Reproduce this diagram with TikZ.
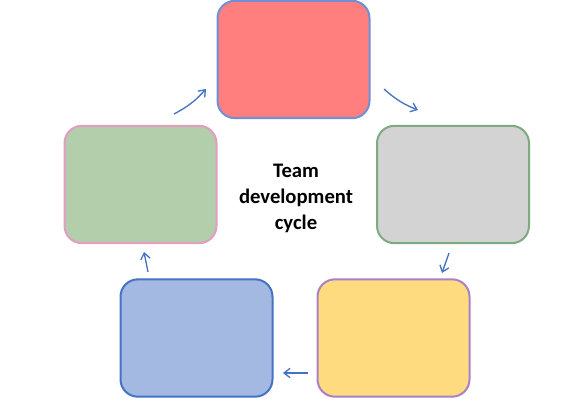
\documentclass[tikz,border=0pt]{standalone}
\usepackage{fontspec}
\setmainfont{Carlito}
\usetikzlibrary{arrows.meta}
\definecolor{redfill}{HTML}{FF7F7F}
\definecolor{redline}{HTML}{6F8FD6}
\definecolor{grayfill}{HTML}{D3D3D3}
\definecolor{grayline}{HTML}{7FA97F}
\definecolor{yellowfill}{HTML}{FFDB80}
\definecolor{yellowline}{HTML}{A97FC6}
\definecolor{bluefill}{HTML}{A4B9E1}
\definecolor{blueline}{HTML}{4472C4}
\definecolor{greenfill}{HTML}{B2CEAA}
\definecolor{greenline}{HTML}{E39CC2}
\definecolor{arrowblue}{HTML}{4472C4}
\tikzset{
  stage/.style = {rounded corners = 13pt, line width = 1.5pt,
    minimum width = 114pt, minimum height = 88pt, inner sep = 0pt},
  cyc/.style = {-{Straight Barb[length = 4.5pt, width = 7pt]}, color = arrowblue, line width = 1pt}
}

\begin{document}
\begin{tikzpicture}[x = 0.75pt, y = -0.75pt]
\useasboundingbox (0, 0) rectangle (588, 400);
\node (forming) [stage, draw = redline, fill = redfill] at (293.5, 59.5) {};
\node (storming) [stage, draw = grayline, fill = grayfill] at (453, 184.5) {};
\node (norming) [stage, draw = yellowline, fill = yellowfill] at (393.5, 338) {};
\node (performing) [stage, draw = blueline, fill = bluefill] at (196.5, 338) {};
\node (adjourning) [stage, draw = greenline, fill = greenfill] at (140.5, 184.5) {};
\node (title) [align = center, font = \fontsize{15.5pt}{19.5pt}\selectfont\bfseries] at (296, 198)
  {Team\\development\\cycle};
\coordinate (a1) at (174, 114);
\coordinate (b1) at (206, 89);
\coordinate (a2) at (384, 89);
\coordinate (b2) at (418, 110);
\coordinate (a3) at (449, 253);
\coordinate (b3) at (442, 273);
\coordinate (a4) at (308, 373);
\coordinate (b4) at (283, 373);
\coordinate (a5) at (148, 272);
\coordinate (b5) at (144, 252);
\draw [cyc] (a1) to [bend right = 10] (b1);
\draw [cyc] (a2) to [bend right = 10] (b2);
\draw [cyc] (a3) to (b3);
\draw [cyc] (a4) to (b4);
\draw [cyc] (a5) to (b5);
\end{tikzpicture}
\end{document}
